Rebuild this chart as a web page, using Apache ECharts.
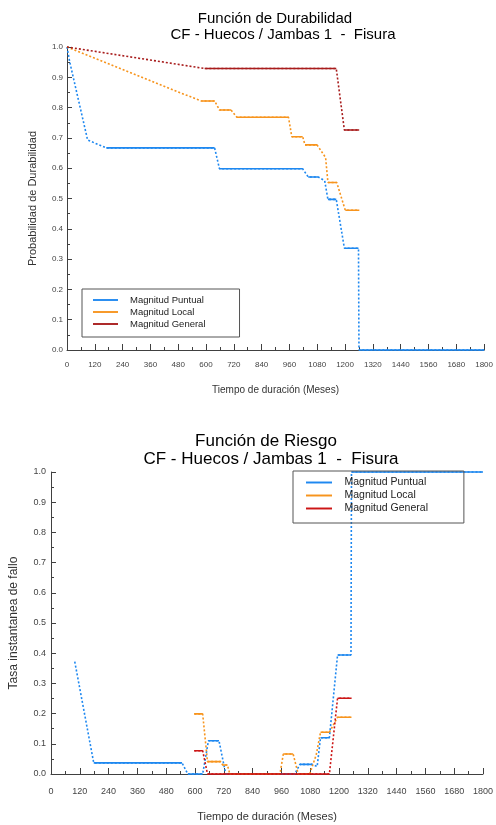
<!DOCTYPE html>
<html><head><meta charset="utf-8">
<script src="https://cdn.jsdelivr.net/npm/echarts@6/dist/echarts.min.js"></script>
<style>html,body{margin:0;padding:0;background:#fff}#c{width:496px;height:825px}</style>
</head><body><div id="c"></div>
<script>
// ---- Data: Función de Durabilidad (top) ----
const durPuntualT = [0, 12, 89, 170, 637, 658, 1017, 1041, 1084, 1112, 1126, 1162, 1197, 1258, 1260, 1800];
const durPuntualV = [1.0, 0.95, 0.693, 0.667, 0.667, 0.598, 0.598, 0.571, 0.571, 0.559, 0.497, 0.497, 0.336, 0.336, 0, 0];
const durLocalT = [0, 140, 353, 495, 580, 637, 658, 708, 733, 956, 970, 1017, 1027, 1079, 1116, 1126, 1164, 1201, 1261];
const durLocalV = [1.0, 0.957, 0.891, 0.847, 0.822, 0.822, 0.792, 0.792, 0.768, 0.768, 0.704, 0.704, 0.677, 0.677, 0.635, 0.553, 0.553, 0.461, 0.461];
const durGeneralT = [0, 594, 1162, 1197, 1261];
const durGeneralV = [1.0, 0.929, 0.929, 0.726, 0.726];

// ---- Data: Función de Riesgo (bottom) ----
const riskPuntualT = [99, 178, 546, 570, 632, 656, 700, 728, 1016, 1037, 1088, 1109, 1123, 1160, 1194, 1250, 1252, 1800];
const riskPuntualV = [0.372, 0.037, 0.037, 0, 0, 0.110, 0.110, 0, 0, 0.032, 0.032, 0.025, 0.12, 0.12, 0.394, 0.394, 1.0, 1.0];
const riskLocalT = [597, 632, 652, 707, 715, 735, 745, 954, 968, 1009, 1030, 1078, 1105, 1123, 1160, 1194, 1252];
const riskLocalV = [0.199, 0.199, 0.041, 0.041, 0.03, 0.03, 0, 0, 0.066, 0.066, 0, 0, 0.063, 0.138, 0.138, 0.188, 0.188];
const riskGeneralT = [597, 632, 652, 1160, 1194, 1252];
const riskGeneralV = [0.077, 0.077, 0, 0, 0.251, 0.251];

const seriesNames = ['Magnitud Puntual', 'Magnitud Local', 'Magnitud General'];
const topTitle = ['Función de Durabilidad', 'CF - Huecos / Jambas 1  -  Fisura'];
const botTitle = ['Función de Riesgo', 'CF - Huecos / Jambas 1  -  Fisura'];
const topYName = 'Probabilidad de Durabilidad';
const botYName = 'Tasa instantanea de fallo';
const xName = 'Tiempo de duración (Meses)';

const topColors = ['#1E88F0', '#F7941D', '#A81C1C'];
const botColors = ['#1E88F0', '#F7941D', '#CC1515'];
const FONT = "'Liberation Sans', Arial, sans-serif";
const LEGEND_ICON = 'path://M0,0H40V3H0Z';

function pairs(ts, vs) { return ts.map((t, i) => [t, vs[i]]); }
function flats(ts, vs) {
  const out = []; let lastEnd = -1;
  for (let i = 0; i < ts.length - 1; i++) {
    if (vs[i] === vs[i + 1]) {
      if (lastEnd !== i) { if (out.length) out.push([ts[i], '-']); out.push([ts[i], vs[i]]); }
      out.push([ts[i + 1], vs[i + 1]]); lastEnd = i + 1;
    }
  }
  return out;
}
function mk(name, color, ts, vs, gi) {
  const base = { type: 'line', xAxisIndex: gi, yAxisIndex: gi, symbol: 'none', showSymbol: false, clip: false, silent: true, animation: false, itemStyle: { color: color } };
  return [
    Object.assign({}, base, { name: name + ' (t' + gi + ')', data: pairs(ts, vs), lineStyle: { color: color, width: 1.6, type: [2, 2] } }),
    Object.assign({}, base, { name: gi === 0 ? name : name + ' ', data: flats(ts, vs), connectNulls: false, lineStyle: { color: color, width: 1.6, type: 'solid' } })
  ];
}

function xAxis(gi, fs, margin, nameFs, nameGap) {
  return {
    gridIndex: gi, type: 'value', min: 0, max: 1800, interval: 120,
    axisLine: { lineStyle: { color: '#404040', width: 1 } },
    axisTick: { show: true, inside: true, length: 6, lineStyle: { color: '#404040' } },
    minorTick: { show: true, splitNumber: 2, length: 3, lineStyle: { color: '#404040' } },
    splitLine: { show: false },
    axisLabel: { fontSize: fs, color: '#444', margin: margin, fontFamily: FONT, showMaxLabel: true, showMinLabel: true, formatter: v => String(v) },
    name: xName, nameLocation: 'middle', nameGap: nameGap,
    nameTextStyle: { fontSize: nameFs, color: '#333', fontFamily: FONT }
  };
}
function yAxis(gi, fs, margin, name, nameFs, nameGap) {
  return {
    gridIndex: gi, type: 'value', min: 0, max: 1, interval: 0.1,
    axisLine: { show: true, lineStyle: { color: '#404040', width: 1 } },
    axisTick: { show: true, inside: true, length: 5, lineStyle: { color: '#404040' } },
    minorTick: { show: true, splitNumber: 2, length: 3, lineStyle: { color: '#404040' } },
    splitLine: { show: false },
    axisLabel: { fontSize: fs, color: '#444', margin: margin, fontFamily: FONT, formatter: v => v.toFixed(1) },
    name: name, nameLocation: 'middle', nameGap: nameGap,
    nameTextStyle: { fontSize: nameFs, color: '#333', fontFamily: FONT }
  };
}
function titleText(txt, x, y, fs) {
  return { type: 'text', x: x, y: y, silent: true,
    style: { text: txt, font: fs + 'px ' + FONT, fill: '#000', align: 'center', verticalAlign: 'middle', textAlign: 'center', textVerticalAlign: 'middle' } };
}

const series = []
  .concat(mk(seriesNames[0], topColors[0], durPuntualT, durPuntualV, 0))
  .concat(mk(seriesNames[1], topColors[1], durLocalT, durLocalV, 0))
  .concat(mk(seriesNames[2], topColors[2], durGeneralT, durGeneralV, 0))
  .concat(mk(seriesNames[0], botColors[0], riskPuntualT, riskPuntualV, 1))
  .concat(mk(seriesNames[1], botColors[1], riskLocalT, riskLocalV, 1))
  .concat(mk(seriesNames[2], botColors[2], riskGeneralT, riskGeneralV, 1));

const option = {
  animation: false,
  backgroundColor: '#fff',
  grid: [
    { left: 67, right: 5, top: 47, bottom: 475 },
    { left: 50, right: 9, top: 472, bottom: 51 }
  ],
  xAxis: [xAxis(0, 8, 11, 10, 35), xAxis(1, 9, 13, 11, 37)],
  yAxis: [yAxis(0, 8, 4, topYName, 11, 29), yAxis(1, 9, 5, botYName, 12, 31)],
  legend: [
    { orient: 'vertical', left: 82, top: 289, padding: [5, 34, 7, 11], itemWidth: 25, itemHeight: 12, itemGap: 0,
      icon: LEGEND_ICON, symbolKeepAspect: true,
      borderColor: '#555', borderWidth: 1, selectedMode: false,
      textStyle: { fontSize: 9.5, lineHeight: 12, color: '#222', fontFamily: FONT, padding: [0, 0, 0, 7] },
      data: seriesNames.map((n, i) => ({ name: n, icon: LEGEND_ICON, itemStyle: { color: topColors[i] } })) },
    { orient: 'vertical', left: 293, top: 471, padding: [5, 33, 8, 13], itemWidth: 26, itemHeight: 13, itemGap: 0,
      icon: LEGEND_ICON, symbolKeepAspect: true,
      borderColor: '#555', borderWidth: 1, selectedMode: false,
      textStyle: { fontSize: 10.5, lineHeight: 13, color: '#222', fontFamily: FONT, padding: [0, 0, 0, 7.5] },
      data: seriesNames.map((n, i) => ({ name: n + ' ', icon: LEGEND_ICON, itemStyle: { color: botColors[i] } })) }
  ],
  graphic: [
    titleText(topTitle[0], 275, 19, 15),
    titleText(topTitle[1], 283, 35, 15),
    titleText(botTitle[0], 266, 441, 17),
    titleText(botTitle[1], 271, 459, 17)
  ],
  series: series
};
const chart = echarts.init(document.getElementById('c'), null, { renderer: 'canvas' });
chart.setOption(option);
</script></body></html>
